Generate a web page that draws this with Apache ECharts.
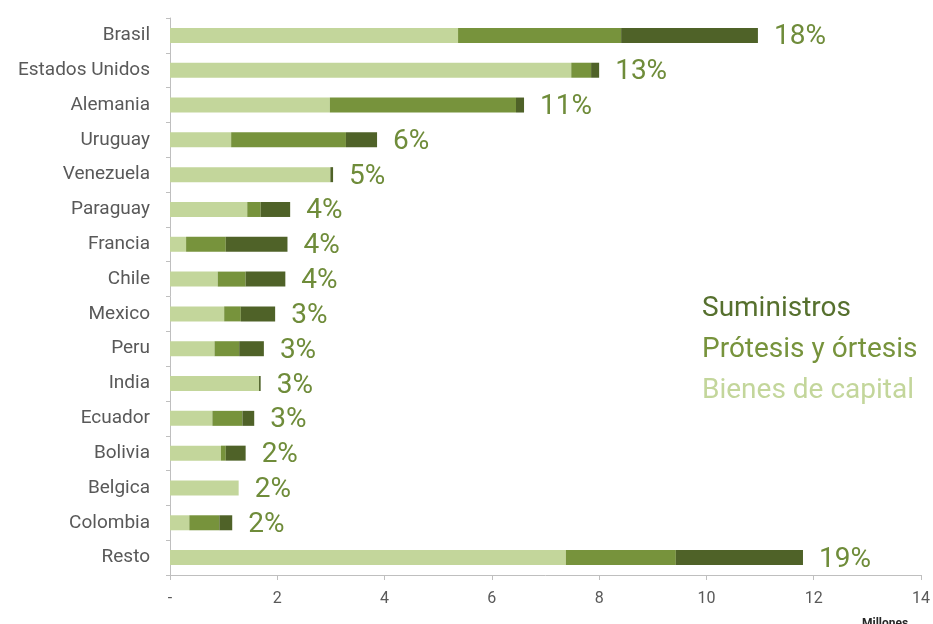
<!DOCTYPE html>
<html>
<head>
<meta charset="utf-8">
<script src="https://cdn.jsdelivr.net/npm/echarts@6/dist/echarts.min.js"></script>
<style>
  html, body { margin: 0; padding: 0; background: #fff; }
  #chart { width: 933px; height: 624px; }
</style>
</head>
<body>
<div id="chart"></div>
<script>
// países, de arriba a abajo
const paises = ["Brasil", "Estados Unidos", "Alemania", "Uruguay", "Venezuela", "Paraguay", "Francia", "Chile",
  "Mexico", "Peru", "India", "Ecuador", "Bolivia", "Belgica", "Colombia", "Resto"]

// millones
const bienesCapital = [5.37, 7.48, 2.98, 1.14, 2.99, 1.44, 0.30, 0.89, 1.01, 0.83, 1.66, 0.79, 0.95, 1.28, 0.36, 7.38]
const protesis = [3.04, 0.37, 3.47, 2.14, 0.00, 0.25, 0.74, 0.52, 0.31, 0.46, 0.00, 0.56, 0.09, 0.00, 0.56, 2.05]
const suministros = [2.55, 0.15, 0.15, 0.58, 0.05, 0.55, 1.15, 0.74, 0.64, 0.46, 0.03, 0.22, 0.37, 0.00, 0.24, 2.37]
const participacion = ["18%", "13%", "11%", "6%", "5%", "4%", "4%", "4%", "3%", "3%", "3%", "3%", "2%", "2%", "2%", "19%"]

const xTicks = [0, 2, 4, 6, 8, 10, 12, 14]

const colorBienes = "#c3d69b"
const colorProtesis = "#77933c"
const colorSuministros = "#4f6228"

const totales = paises.map((_, i) => bienesCapital[i] + protesis[i] + suministros[i])

const chart = echarts.init(document.getElementById("chart"))

const option = {
  backgroundColor: "#fff",
  animation: false,
  textStyle: { fontFamily: "Roboto" },
  grid: {
    left: 170,
    right: 12,
    top: 18,
    bottom: 49,
    containLabel: false,
  },
  legend: {
    orient: "vertical",
    left: 692,
    top: 289,
    icon: "none",
    itemWidth: 0,
    itemHeight: 30,
    itemGap: 12,
    selectedMode: false,
    data: [
      { name: "Suministros", textStyle: { color: "#56702e" } },
      { name: "Prótesis y órtesis", textStyle: { color: colorProtesis } },
      { name: "Bienes de capital", textStyle: { color: colorBienes } },
    ],
    textStyle: { fontSize: 28, fontFamily: "Roboto" },
  },
  xAxis: {
    type: "value",
    min: xTicks[0],
    max: xTicks[xTicks.length - 1],
    interval: 2,
    axisLine: { show: true, lineStyle: { color: "#bfbfbf", width: 1 } },
    axisTick: { show: true, length: 5, lineStyle: { color: "#bfbfbf" } },
    splitLine: { show: false },
    axisLabel: {
      color: "#595959",
      fontSize: 16,
      margin: 16,
      formatter: v => (v === 0 ? "-" : String(v)),
    },
  },
  yAxis: {
    type: "category",
    inverse: true,
    data: paises,
    axisLine: { show: true, lineStyle: { color: "#bfbfbf", width: 1 } },
    axisTick: { show: true, length: 4, lineStyle: { color: "#bfbfbf" } },
    axisLabel: { color: "#595959", fontSize: 19, margin: 20 },
  },
  series: [
    {
      name: "Bienes de capital",
      type: "bar",
      stack: "total",
      barWidth: 15,
      data: bienesCapital,
      itemStyle: { color: colorBienes },
    },
    {
      name: "Prótesis y órtesis",
      type: "bar",
      stack: "total",
      barWidth: 15,
      data: protesis,
      itemStyle: { color: colorProtesis },
    },
    {
      name: "Suministros",
      type: "bar",
      stack: "total",
      barWidth: 15,
      barGap: "-100%",
      data: suministros,
      itemStyle: { color: colorSuministros },
    },
    {
      // solo para las etiquetas de participación
      name: "total",
      type: "bar",
      barWidth: 15,
      barGap: "-100%",
      z: 1,
      data: totales,
      itemStyle: { color: "rgba(0,0,0,0)" },
      label: {
        show: true,
        position: "right",
        distance: 16,
        offset: [0, 2],
        color: "#6f8c3a",
        fontSize: 28,
        fontFamily: "Roboto",
        formatter: p => participacion[p.dataIndex],
      },
      silent: true,
    },
  ],
  graphic: [
    {
      type: "text",
      left: 862,
      top: 618,
      style: { text: "Millones", fontSize: 12, fontWeight: "bold", fill: "#262626", fontFamily: "Roboto" },
    },
  ],
}

chart.setOption(option)
</script>
</body>
</html>
